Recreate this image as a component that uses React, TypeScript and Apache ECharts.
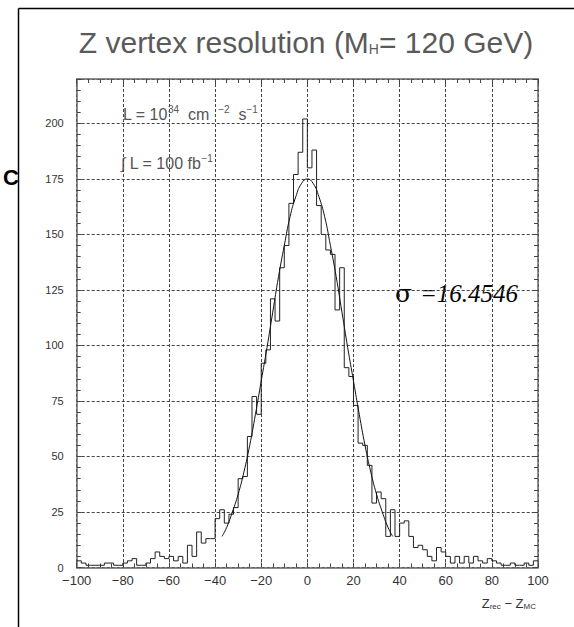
import React, { useEffect, useRef } from "react";
import * as echarts from "echarts";

// Histogram: 100 bins of width 2 from -100 to 100
const binStart = -100;
const binWidth = 2;
const counts = [
  3, 2, 1, 1, 1, 1, 2, 2, 1, 1,
  2, 3, 4, 1, 1, 2, 4, 7, 5, 4,
  5, 3, 5, 2, 10, 5, 16, 11, 13, 13,
  22, 26, 20, 24, 27, 40, 41, 59, 77, 69,
  92, 98, 121, 111, 135, 145, 164, 177, 187, 202,
  180, 188, 163, 150, 143, 141, 116, 135, 90, 86,
  73, 56, 55, 46, 29, 34, 31, 14, 26, 14,
  20, 21, 14, 9, 10, 8, 5, 3, 9, 7,
  5, 2, 5, 2, 5, 2, 5, 3, 2, 4,
  3, 2, 1, 1, 2, 1, 1, 2, 1, 3,
];

// Fitted gaussian curve
const fitX = [-37, -35, -32.5, -30, -27.5, -25, -22.5, -20, -17.5, -15, -12.5, -10, -7.5, -5, -2.5, 0,
  2.5, 5, 7.5, 10, 12.5, 15, 17.5, 20, 22.5, 25, 27.5, 30, 32.5, 35, 37];
const fitY = [14, 18, 25, 33, 43, 55, 69, 84, 99, 115, 131, 145, 158, 167, 173, 175,
  173, 167, 158, 145, 131, 115, 99, 84, 69, 55, 43, 33, 25, 18, 14];

const xTicks = [-100, -80, -60, -40, -20, 0, 20, 40, 60, 80, 100];
const yTicks = [0, 25, 50, 75, 100, 125, 150, 175, 200];

const titleText = "Z vertex resolution (M";
const titleSub = "H";
const titleRest = "= 120 GeV)";
const sigmaText = "=16.4546";

export default function App() {
  const ref = useRef<HTMLDivElement>(null);
  useEffect(() => {
    if (!ref.current) return;
    const chart = echarts.init(ref.current, null, { renderer: "svg" });
    const hist: number[][] = counts.map((c, i) => [binStart + i * binWidth, c]);
    hist.push([binStart + counts.length * binWidth, counts[counts.length - 1]]);
    const fit = fitX.map((x, i) => [x, fitY[i]]);
    const font = "Liberation Sans";
    const axisCommon = {
      type: "value" as const,
      axisLine: { show: true, onZero: false, lineStyle: { color: "#666", width: 1.5 } },
      axisTick: { show: true, inside: true, length: 5, lineStyle: { color: "#444", width: 1 } },
      minorTick: { show: true, length: 4, lineStyle: { color: "#444", width: 1 } },
    };
    const option: any = {
      animation: false,
      backgroundColor: "#fff",
      grid: { left: 76.7, right: 36, top: 79, bottom: 59.5 },
      xAxis: [
        {
          ...axisCommon,
          position: "bottom",
          min: xTicks[0],
          max: xTicks[xTicks.length - 1],
          interval: 20,
          minorTick: { ...axisCommon.minorTick, splitNumber: 4 },
          splitLine: { show: true, lineStyle: { color: "#444", width: 1, type: [3, 2] } },
          axisLabel: {
            fontFamily: font,
            fontSize: 13,
            color: "#333",
            margin: 6,
            formatter: (v: number) => (v < 0 ? "\u2212" + Math.abs(v) : String(v)),
          },
        },
        {
          ...axisCommon,
          position: "top",
          min: xTicks[0],
          max: xTicks[xTicks.length - 1],
          interval: 20,
          minorTick: { ...axisCommon.minorTick, splitNumber: 4 },
          splitLine: { show: false },
          axisLabel: { show: false },
        },
      ],
      yAxis: [
        {
          ...axisCommon,
          position: "left",
          min: 0,
          max: 220,
          interval: 25,
          minorTick: { ...axisCommon.minorTick, splitNumber: 5 },
          splitLine: { show: true, lineStyle: { color: "#444", width: 1, type: [3, 2] } },
          axisLabel: {
            fontFamily: font,
            fontSize: 11,
            color: "#333",
            margin: 13,
            formatter: (v: number) => (yTicks.indexOf(v) >= 0 ? String(v) : ""),
          },
        },
        {
          ...axisCommon,
          position: "right",
          min: 0,
          max: 220,
          interval: 25,
          minorTick: { ...axisCommon.minorTick, splitNumber: 5 },
          splitLine: { show: false },
          axisLabel: { show: false },
        },
      ],
      series: [
        {
          type: "line",
          data: hist,
          step: "end",
          symbol: "none",
          lineStyle: { color: "#222", width: 1 },
          z: 3,
        },
        {
          type: "line",
          data: fit,
          smooth: true,
          symbol: "none",
          lineStyle: { color: "#111", width: 1 },
          z: 4,
        },
      ],
      graphic: [
        { type: "line", shape: { x1: 18.5, y1: 8.5, x2: 574, y2: 8.5 }, style: { stroke: "#000", lineWidth: 1.5 } },
        { type: "line", shape: { x1: 18.5, y1: 8.5, x2: 18.5, y2: 627 }, style: { stroke: "#000", lineWidth: 1.5 } },
        {
          type: "text",
          x: 3,
          y: 177,
          style: { text: "C", font: "bold 22px Liberation Sans", fill: "#000", textVerticalAlign: "middle" },
        },
        {
          type: "text",
          x: 306,
          y: 42,
          style: {
            text: `{a|${titleText}}{s|${titleSub}}{a|${titleRest}}`,
            textAlign: "center",
            textVerticalAlign: "middle",
            rich: {
              a: { fontFamily: font, fontSize: 30, fill: "#5a5a5a" },
              s: { fontFamily: font, fontSize: 14, fill: "#5a5a5a", padding: [14, 0, 0, 0] },
            },
          },
        },
        {
          type: "text",
          x: 123,
          y: 114,
          style: {
            text: "{a|L = 10}{p|34}{a|  cm  }{p|\u22122}{a|  s}{p|\u22121}",
            textVerticalAlign: "middle",
            rich: {
              a: { fontFamily: font, fontSize: 16, fill: "#555" },
              p: { fontFamily: font, fontSize: 10, fill: "#555", padding: [0, 0, 9, 0] },
            },
          },
        },
        {
          type: "text",
          x: 121,
          y: 163,
          style: {
            text: "{a|\u222B L = 100 fb}{p|\u22121}",
            textVerticalAlign: "middle",
            rich: {
              a: { fontFamily: font, fontSize: 16, fill: "#555" },
              p: { fontFamily: font, fontSize: 10, fill: "#555", padding: [0, 0, 9, 0] },
            },
          },
        },
        {
          type: "text",
          x: 395,
          y: 293,
          style: {
            text: "{g|\u03C3 }{a|" + sigmaText + "}",
            textVerticalAlign: "middle",
            rich: {
              g: { fontFamily: "DejaVu Serif", fontSize: 25, fill: "#000" },
              a: { fontFamily: "Liberation Serif", fontStyle: "italic", fontSize: 25, fill: "#000" },
            },
          },
        },
        {
          type: "text",
          x: 536,
          y: 603,
          style: {
            text: "{a|Z}{s|rec}{a| \u2212 Z}{s|MC}",
            textAlign: "right",
            textVerticalAlign: "middle",
            rich: {
              a: { fontFamily: font, fontSize: 13, fill: "#333" },
              s: { fontFamily: font, fontSize: 8, fill: "#333", padding: [6, 0, 0, 0] },
            },
          },
        },
      ],
    };
    chart.setOption(option);
    return () => chart.dispose();
  }, []);
  return (
    <div
      ref={ref}
      style={{ position: "absolute", left: 0, top: 0, width: 574, height: 627, background: "#fff" }}
    />
  );
}
